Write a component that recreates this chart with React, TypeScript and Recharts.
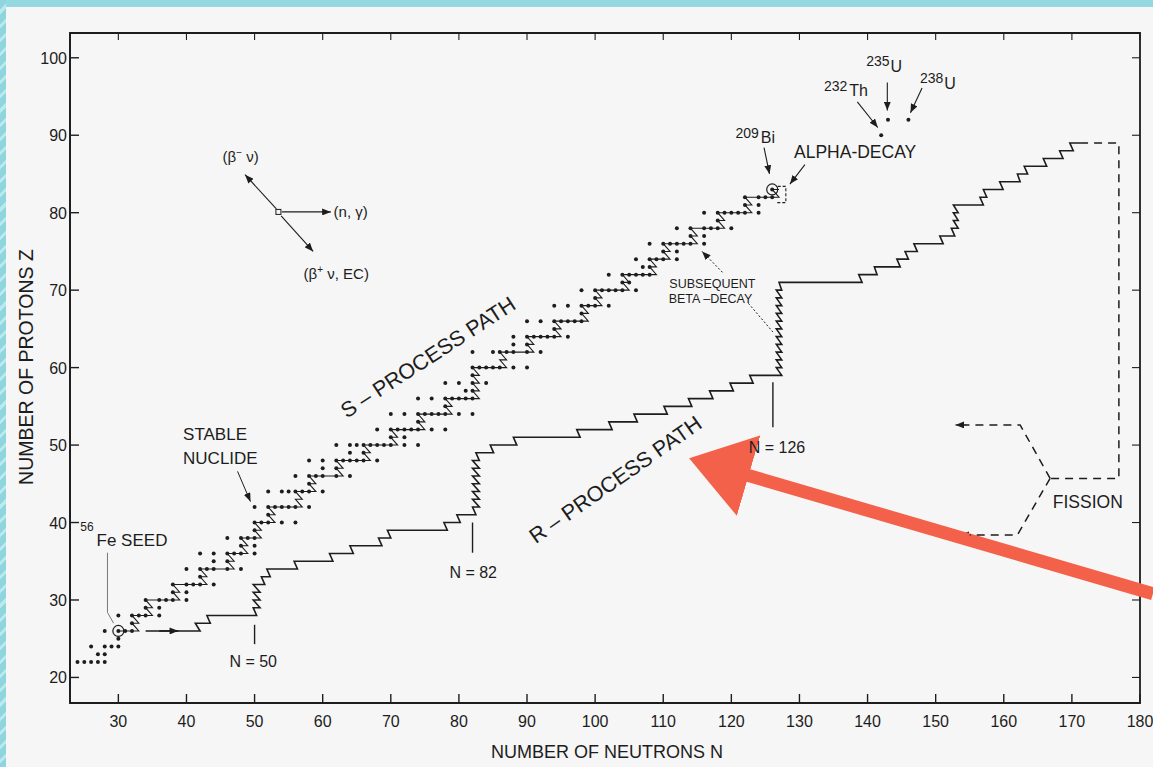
import React from "react";
import {
  ScatterChart,
  Scatter,
  XAxis,
  YAxis,
  ReferenceLine,
  ReferenceDot,
  ReferenceArea,
} from "recharts";

const WIDTH = 1153;
const HEIGHT = 767;
const PLOT = { left: 70, top: 33, right: 1140, bottom: 703 };
const INK = "#1d1d1d";
const RED = "#f4614a";
const FONT = "'Liberation Sans', Arial, Helvetica, sans-serif";

const xTicks = [30, 40, 50, 60, 70, 80, 90, 100, 110, 120, 130, 140, 150, 160, 170, 180];
const yTicks = [20, 30, 40, 50, 60, 70, 80, 90, 100];
const xDomain: [number, number] = [22.9, 180];
const yDomain: [number, number] = [16.7, 103.2];

// stable nuclides: [Z, neutron numbers]
const stable: [number, number[]][] = [
  [22, [24, 25, 26, 27, 28]],
  [23, [27, 28]],
  [24, [26, 28, 29, 30]],
  [25, [30]],
  [26, [28, 30, 31, 32]],
  [27, [32]],
  [28, [30, 32, 33, 34, 36]],
  [29, [34, 36]],
  [30, [34, 36, 37, 38, 40]],
  [31, [38, 40]],
  [32, [38, 40, 41, 42, 44]],
  [33, [42]],
  [34, [40, 42, 43, 44, 46, 48]],
  [35, [44, 46]],
  [36, [42, 44, 46, 47, 48, 50]],
  [37, [48, 50]],
  [38, [46, 48, 49, 50]],
  [39, [50]],
  [40, [50, 51, 52, 54, 56]],
  [41, [52]],
  [42, [50, 52, 53, 54, 55, 56, 58]],
  [44, [52, 54, 55, 56, 57, 58, 60]],
  [45, [58]],
  [46, [56, 58, 59, 60, 62, 64]],
  [47, [60, 62]],
  [48, [58, 60, 62, 63, 64, 65, 66, 68]],
  [49, [64, 66]],
  [50, [62, 64, 65, 66, 67, 68, 69, 70, 72, 74]],
  [51, [70, 72]],
  [52, [68, 70, 71, 72, 73, 74, 76, 78]],
  [53, [74]],
  [54, [70, 72, 74, 75, 76, 77, 78, 80, 82]],
  [55, [78]],
  [56, [74, 76, 78, 79, 80, 81, 82]],
  [57, [81, 82]],
  [58, [78, 80, 82, 84]],
  [59, [82]],
  [60, [82, 83, 84, 85, 86, 88, 90]],
  [62, [82, 85, 86, 87, 88, 90, 92]],
  [63, [88, 90]],
  [64, [88, 90, 91, 92, 93, 94, 96]],
  [65, [94]],
  [66, [90, 92, 94, 95, 96, 97, 98]],
  [67, [98]],
  [68, [94, 96, 98, 99, 100, 102]],
  [69, [100]],
  [70, [98, 100, 101, 102, 103, 104, 106]],
  [71, [104, 105]],
  [72, [102, 104, 105, 106, 107, 108]],
  [73, [107, 108]],
  [74, [106, 108, 109, 110, 112]],
  [75, [110, 112]],
  [76, [108, 110, 111, 112, 113, 114, 116]],
  [77, [114, 116]],
  [78, [112, 114, 116, 117, 118, 120]],
  [79, [118]],
  [80, [116, 118, 119, 120, 121, 122, 124]],
  [81, [122, 124]],
  [82, [122, 124, 125, 126]],
  [83, [126]],
];

// long-lived actinides
const actinides = [
  { n: 142, z: 90 },
  { n: 143, z: 92 },
  { n: 146, z: 92 },
];

// s-process: [Z, N entered, N left by beta decay]
const sRows: [number, number, number][] = [
  [26, 30, 33], [27, 32, 33], [28, 32, 35], [29, 34, 35], [30, 34, 39],
  [31, 38, 39], [32, 38, 43], [33, 42, 43], [34, 42, 47], [35, 46, 47],
  [36, 46, 49], [37, 48, 49], [38, 48, 51], [39, 50, 51], [40, 50, 53],
  [41, 52, 53], [42, 52, 57], [43, 56, 57], [44, 56, 59], [45, 58, 59],
  [46, 58, 63], [47, 62, 63], [48, 62, 67], [49, 66, 67], [50, 66, 71],
  [51, 70, 71], [52, 70, 75], [53, 74, 75], [54, 74, 79], [55, 78, 79],
  [56, 78, 83], [57, 82, 83], [58, 82, 83], [59, 82, 83], [60, 82, 87],
  [61, 86, 87], [62, 86, 91], [63, 90, 91], [64, 90, 95], [65, 94, 95],
  [66, 94, 99], [67, 98, 99], [68, 98, 101], [69, 100, 101], [70, 100, 105],
  [71, 104, 105], [72, 104, 109], [73, 108, 109], [74, 108, 111], [75, 110, 111],
  [76, 110, 115], [77, 114, 115], [78, 114, 119], [79, 118, 119], [80, 118, 123],
  [81, 122, 123], [82, 122, 127], [83, 126, 127],
];

// r-process: [Z, N start, N end] of each horizontal run
const rRows: [number, number, number][] = [
  [26, 34, 42], [27, 41.3, 43.5], [28, 43, 50.3],
  [29, 49.8, 50.8], [30, 49.8, 50.8], [31, 49.8, 50.8], [32, 49.8, 51.5],
  [33, 51, 52.3], [34, 51.8, 56.3], [35, 55.8, 61.5], [36, 61, 64.5],
  [37, 64, 68.7], [38, 68.2, 70], [39, 69.5, 78.3], [40, 77.8, 80.2],
  [41, 79.7, 82.5], [42, 82, 83], [43, 82, 83], [44, 82, 83], [45, 82, 83],
  [46, 82, 83], [47, 82, 83], [48, 82, 83], [49, 82.5, 85.1],
  [50, 84.6, 88.5], [51, 88, 97.8], [52, 97.3, 102.5], [53, 102, 106.2],
  [54, 105.7, 110.6], [55, 110.1, 114.2], [56, 113.7, 117.3], [57, 116.8, 120.3],
  [58, 119.8, 123.2], [59, 122.7, 127.4],
  [60, 126.6, 127.4], [61, 126.6, 127.4], [62, 126.6, 127.4], [63, 126.6, 127.4],
  [64, 126.6, 127.4], [65, 126.6, 127.4], [66, 126.6, 127.4], [67, 126.6, 127.4],
  [68, 126.6, 127.4], [69, 126.6, 127.4], [70, 126.6, 127.4],
  [71, 127, 139.2], [72, 138.7, 141.4], [73, 141, 144.8], [74, 144.3, 146],
  [75, 145.5, 147.3], [76, 146.8, 151.1], [77, 150.6, 152.8],
  [78, 152.3, 153.3], [79, 152.6, 153.3], [80, 152.6, 153.3], [81, 152.6, 157],
  [82, 156.5, 157.5], [83, 157, 159.9], [84, 159.4, 162.4], [85, 162, 163.5],
  [86, 163, 166.3], [87, 165.8, 168.7], [88, 168.2, 170.2], [89, 169.7, 171.2],
];

// fission return paths: [N, Z]
const fissionMain: [number, number][] = [[171.2, 89], [176.9, 89], [176.9, 45.7], [166.8, 45.7]];
const fissionUpper: [number, number][] = [[166.8, 45.7], [162.4, 52.6], [154.2, 52.6]];
const fissionLower: [number, number][] = [[166.8, 45.7], [162, 38.4], [155, 38.4]];
const alphaLoop: [number, number][] = [[126.8, 83.4], [128, 83.4], [128, 81.3], [126.6, 81.3]];

const stablePts = stable.flatMap(([z, ns]) => ns.map((n) => ({ n, z })));
const rowsToPath = (rows: [number, number, number][]) =>
  rows.flatMap(([z, a, b]) => [{ n: a, z }, { n: b, z }]);
const pairsToPath = (pairs: [number, number][]) => pairs.map(([n, z]) => ({ n, z }));

function XTick(props: any) {
  const { x, payload } = props;
  return (
    <g>
      <line x1={x} x2={x} y1={PLOT.bottom} y2={PLOT.bottom - 9} stroke={INK} strokeWidth={1.4} />
      <line x1={x} x2={x} y1={PLOT.top} y2={PLOT.top + 7} stroke={INK} strokeWidth={1.1} />
      <text x={x} y={PLOT.bottom + 24} textAnchor="middle" fontSize={16} fontFamily={FONT} fill={INK}>
        {payload.value}
      </text>
    </g>
  );
}

function YTick(props: any) {
  const { y, payload } = props;
  return (
    <g>
      <line x1={PLOT.left} x2={PLOT.left + 9} y1={y} y2={y} stroke={INK} strokeWidth={1.4} />
      <line x1={PLOT.right} x2={PLOT.right - 8} y1={y} y2={y} stroke={INK} strokeWidth={1.1} />
      <text x={PLOT.left - 3} y={y + 6} textAnchor="end" fontSize={16} fontFamily={FONT} fill={INK}>
        {payload.value}
      </text>
    </g>
  );
}

type NoteOpts = { size?: number; anchor?: "start" | "middle" | "end"; rotate?: number; central?: boolean };

function note(key: string, n: number, z: number, body: React.ReactNode, opts: NoteOpts = {}) {
  const { size = 17, anchor = "start", rotate = 0, central = false } = opts;
  return (
    <ReferenceDot
      key={key}
      x={n}
      y={z}
      r={0}
      ifOverflow="visible"
      shape={(p: any) => (
        <text
          x={p.cx}
          y={p.cy}
          fontSize={size}
          fontFamily={FONT}
          fill={INK}
          textAnchor={anchor}
          dominantBaseline={central ? "central" : undefined}
          transform={rotate ? `rotate(${rotate} ${p.cx} ${p.cy})` : undefined}
        >
          {body}
        </text>
      )}
    />
  );
}

type PointerOpts = { color?: string; width?: number; dash?: string; head?: string | null };

function pointer(key: string, from: [number, number], to: [number, number], opts: PointerOpts = {}) {
  const { color = INK, width = 1.1, dash, head = "url(#tip)" } = opts;
  return (
    <ReferenceLine
      key={key}
      segment={[{ x: from[0], y: from[1] }, { x: to[0], y: to[1] }]}
      stroke={color}
      strokeWidth={width}
      strokeDasharray={dash}
      markerEnd={head ?? undefined}
      ifOverflow="visible"
    />
  );
}

const dotShape = (p: any) => <circle cx={p.cx} cy={p.cy} r={2} fill={INK} />;
const noShape = () => <g />;

export default function App() {
  return (
    <div style={{ position: "absolute", left: 0, top: 0, width: WIDTH, height: HEIGHT, background: "#f6f6f6", overflow: "hidden" }}>
      <div style={{ position: "absolute", left: 0, top: 0, width: WIDTH, height: 7, background: "#94d8e0" }} />
      <div
        style={{
          position: "absolute", left: 0, top: 0, width: 6, height: HEIGHT,
          background: "repeating-linear-gradient(135deg, #8fd5de 0 7px, #b9e8ed 7px 10px)",
        }}
      />
      <svg width={0} height={0} style={{ position: "absolute" }}>
        <defs>
          <marker id="tip" viewBox="0 0 10 8" refX="10" refY="4" markerWidth="9" markerHeight="7" markerUnits="userSpaceOnUse" orient="auto">
            <path d="M0,0 L10,4 L0,8 z" fill={INK} />
          </marker>
          <marker id="tipRed" viewBox="0 0 62 84" refX="1" refY="42" markerWidth="62" markerHeight="84" markerUnits="userSpaceOnUse" orient="auto">
            <path d="M0,0 L62,42 L0,84 z" fill={RED} />
          </marker>
        </defs>
      </svg>
      <div style={{ position: "absolute", left: 0, top: 0 }}>
        <ScatterChart
          width={WIDTH}
          height={HEIGHT}
          margin={{ top: PLOT.top, right: WIDTH - PLOT.right, bottom: 0, left: 0 }}
        >
          <XAxis
            type="number"
            dataKey="n"
            domain={xDomain}
            ticks={xTicks}
            interval={0}
            tick={XTick}
            tickLine={false}
            axisLine={{ stroke: INK, strokeWidth: 1.8 }}
            height={HEIGHT - PLOT.bottom}
            allowDataOverflow
            label={{
              content: () => (
                <text x={(PLOT.left + PLOT.right) / 2 + 2} y={758} textAnchor="middle" fontSize={18} fontFamily={FONT} fill={INK}>
                  NUMBER OF NEUTRONS N
                </text>
              ),
            }}
          />
          <YAxis
            type="number"
            dataKey="z"
            domain={yDomain}
            ticks={yTicks}
            interval={0}
            tick={YTick}
            tickLine={false}
            axisLine={{ stroke: INK, strokeWidth: 1.8 }}
            width={PLOT.left}
            allowDataOverflow
            label={{
              content: () => (
                <text x={33} y={367} textAnchor="middle" fontSize={19.5} fontFamily={FONT} fill={INK} transform="rotate(-90 33 367)">
                  NUMBER OF PROTONS Z
                </text>
              ),
            }}
          />
          <ReferenceArea
            x1={xDomain[0]}
            x2={xDomain[1]}
            y1={yDomain[0]}
            y2={yDomain[1]}
            fill="none"
            stroke={INK}
            strokeWidth={1.8}
            ifOverflow="visible"
          />

          {/* s-process staircase and the stable valley */}
          <Scatter data={rowsToPath(sRows)} shape={noShape} line={{ stroke: INK, strokeWidth: 1.1 }} isAnimationActive={false} />
          <Scatter data={stablePts} shape={dotShape} isAnimationActive={false} />
          <Scatter data={actinides} shape={dotShape} isAnimationActive={false} />

          {/* r-process path and fission recycling */}
          <Scatter data={rowsToPath(rRows)} shape={noShape} line={{ stroke: INK, strokeWidth: 1.6 }} isAnimationActive={false} />
          <Scatter data={pairsToPath(fissionMain)} shape={noShape} line={{ stroke: INK, strokeWidth: 1.5, strokeDasharray: "8 6" }} isAnimationActive={false} />
          <Scatter data={pairsToPath(fissionUpper)} shape={noShape} line={{ stroke: INK, strokeWidth: 1.5, strokeDasharray: "8 6" }} isAnimationActive={false} />
          <Scatter data={pairsToPath(fissionLower)} shape={noShape} line={{ stroke: INK, strokeWidth: 1.5, strokeDasharray: "8 6" }} isAnimationActive={false} />
          <Scatter data={pairsToPath(alphaLoop)} shape={noShape} line={{ stroke: INK, strokeWidth: 1.1, strokeDasharray: "3 2" }} isAnimationActive={false} />
          {pointer("fisArrowUp", [154.4, 52.6], [152.9, 52.6])}
          {pointer("fisArrowDown", [155.2, 38.4], [153.6, 38.4])}
          {pointer("rStart", [36, 26], [38.8, 26], { width: 1.6 })}

          {/* seed and end point */}
          <ReferenceDot x={30} y={26} r={5.5} fill="none" stroke={INK} strokeWidth={1.2} ifOverflow="visible" />
          <ReferenceDot x={126} y={83} r={5.5} fill="none" stroke={INK} strokeWidth={1.2} ifOverflow="visible" />

          {/* reaction direction key */}
          <ReferenceDot
            x={53.5}
            y={80.1}
            r={0}
            ifOverflow="visible"
            shape={(p: any) => <rect x={p.cx - 2.5} y={p.cy - 2.5} width={5} height={5} fill="#f6f6f6" stroke={INK} strokeWidth={1} />}
          />
          {pointer("keyN", [54, 80.1], [61.2, 80.1])}
          {pointer("keyBm", [53.2, 80.5], [48.6, 84.9])}
          {pointer("keyBp", [53.9, 79.6], [58.6, 75])}
          {note("keyBmTxt", 45.3, 86.6, <>(β<tspan fontSize={10} dy={-6}>−</tspan><tspan dy={6}> ν)</tspan></>, { size: 15 })}
          {note("keyNTxt", 61.6, 80.1, "(n, γ)", { size: 15, central: true })}
          {note("keyBpTxt", 57.2, 71.4, <>(β<tspan fontSize={10} dy={-6}>+</tspan><tspan dy={6}> ν, EC)</tspan></>, { size: 15 })}

          {/* annotations */}
          {note("stable", 39.5, 50.7, "STABLE", { size: 17 })}
          {note("nuclide", 39.5, 47.5, "NUCLIDE", { size: 17 })}
          {pointer("stableArrow", [47.5, 46.6], [49.4, 42.7], { width: 1 })}

          {note("seed", 24.4, 37, <><tspan fontSize={12} dy={-15}>56</tspan><tspan dx={3} dy={15}>Fe SEED</tspan></>, { size: 17 })}
          {pointer("seedA", [28.4, 36.1], [28.4, 28.4], { color: "#777", width: 1, head: null })}
          {pointer("seedB", [28.4, 28.4], [29.3, 27], { color: "#777", width: 1, head: null })}

          {pointer("n50", [50, 26.8], [50, 24.3], { width: 1.4, head: null })}
          {note("n50Txt", 49.8, 21.3, "N = 50", { size: 16, anchor: "middle" })}
          {pointer("n82", [82, 40], [82, 36.1], { width: 1.4, head: null })}
          {note("n82Txt", 82.1, 32.9, "N = 82", { size: 16, anchor: "middle" })}
          {pointer("n126", [126.1, 58.1], [126.1, 52.3], { width: 1.4, head: null })}
          {note("n126Txt", 126.7, 49, "N = 126", { size: 16, anchor: "middle" })}

          {note("sLabel", 75.5, 61.3, "S – PROCESS PATH", { size: 21.5, anchor: "middle", rotate: -33, central: true })}
          {note("rLabel", 103, 45.5, "R – PROCESS PATH", { size: 21.5, anchor: "middle", rotate: -35, central: true })}

          {note("bi", 120.6, 89, <><tspan fontSize={14} dy={-5}>209</tspan><tspan dx={2} dy={5}>Bi</tspan></>, { size: 16 })}
          {pointer("biArrow", [124.8, 88.4], [125.6, 85])}
          {note("alpha", 129.2, 87.1, "ALPHA-DECAY", { size: 17.5 })}
          {pointer("alphaArrow", [130.8, 86.2], [128.6, 83.7])}

          {note("th", 133.6, 95.1, <><tspan fontSize={14} dy={-5}>232</tspan><tspan dx={2} dy={5}>Th</tspan></>, { size: 16 })}
          {pointer("thArrow", [138.5, 94.3], [141.5, 91])}
          {note("u235", 139.8, 98.2, <><tspan fontSize={14} dy={-6}>235</tspan><tspan dx={1} dy={6}>U</tspan></>, { size: 16 })}
          {pointer("u235Arrow", [142.9, 96.8], [142.9, 93.2])}
          {note("u238", 147.7, 96, <><tspan fontSize={14} dy={-6}>238</tspan><tspan dx={1} dy={6}>U</tspan></>, { size: 16 })}
          {pointer("u238Arrow", [148, 96.1], [146.3, 92.9])}

          {note("subseq", 110.9, 70.3, "SUBSEQUENT", { size: 12.5 })}
          {note("betaDecay", 110.8, 68.4, "BETA –DECAY", { size: 12.5 })}
          {pointer("subseqUp", [118.7, 72.3], [115.7, 75], { dash: "2 2", width: 1 })}
          {pointer("subseqDown", [122.5, 68.3], [126.1, 64.6], { dash: "2 2", width: 1, head: null })}

          {note("fission", 167.2, 41.9, "FISSION", { size: 17.5 })}

          {/* highlight arrow */}
          {pointer("redArrow", [181.9, 30.8], [122.4, 46.1], { color: RED, width: 13, head: "url(#tipRed)" })}
        </ScatterChart>
      </div>
    </div>
  );
}
